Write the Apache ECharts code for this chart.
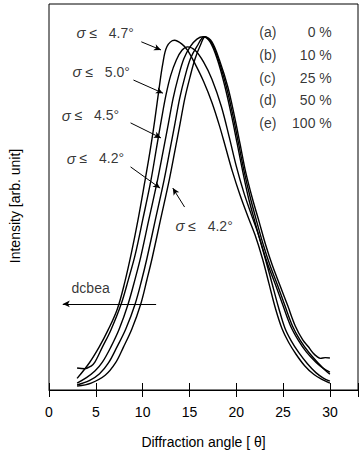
<!DOCTYPE html>
<html>
<head>
<meta charset="utf-8">
<script src="https://cdn.jsdelivr.net/npm/echarts@6/dist/echarts.min.js"></script>
<style>
  html, body { margin: 0; padding: 0; background: #fff; }
  #chart { width: 361px; height: 456px; }
</style>
</head>
<body>
<div id="chart"></div>
<script>
// x tick values and curve data: [angle, intensity (0-100 of plot height)]
const xTicks = [0, 5, 10, 15, 20, 25, 30];

const curveD = [[3.0,3.0],[4.3,7.0],[5.35,11.1],[6.3,15.5],[7.3,21],[8.1,28],[8.8,35.5],[9.5,44],[10.2,53.5],[10.8,62],[11.3,70],[11.75,78],[12.15,84.5],[12.6,89],[13.4,90.6],[14.2,89.6],[14.8,88],[15.6,84.5],[16.5,80],[17.4,74.5],[18.2,68.5],[18.9,62.5],[19.6,56.5],[20.4,50.5],[21.2,45.2],[22.0,40.2],[22.8,34],[23.5,27.5],[24.2,21],[24.9,15.8],[25.6,12.3],[26.4,9.2],[27.3,6.3],[28.3,4.0],[29.2,2.7],[30.0,1.8]];

const curveC = [[3.0,5.7],[3.8,5.5],[4.5,6.2],[4.9,7.2],[5.7,11.1],[6.6,15.5],[7.7,22.2],[8.5,28.8],[9.2,35],[10.0,44],[10.9,54.5],[11.5,63],[12.0,70],[12.5,76.5],[13.0,81.5],[13.6,85.5],[14.2,88],[14.8,88.9],[15.6,88.0],[16.5,85],[17.4,80.5],[18.4,73.5],[19.25,65.5],[20.0,58],[20.8,51.2],[21.6,45.5],[22.4,40],[23.1,34],[23.8,27.8],[24.5,21.5],[25.2,16],[25.9,12.6],[26.7,9.6],[27.6,6.8],[28.5,4.5],[29.3,3.1],[30.0,2.3]];

const curveB = [[3.0,1.8],[4.0,3.2],[4.9,4.9],[5.7,7.2],[6.6,11.1],[7.5,15.8],[8.45,22.3],[9.2,28.8],[9.8,34.5],[10.65,44],[11.6,54.5],[12.2,62],[12.75,69],[13.25,75.5],[13.8,81],[14.4,85.8],[15.1,89],[15.8,90.9],[16.47,91.5],[17.2,90.2],[18.0,85.5],[18.8,78.5],[19.5,71],[20.1,63.8],[20.7,56.5],[21.3,49.8],[22.0,43.5],[22.7,37.5],[23.4,32.3],[24.2,27.2],[25.0,21.8],[25.8,16.6],[26.6,13],[27.5,9.8],[28.5,7.2],[29.3,5.6],[30.0,4.6]];

const curveE = [[3.0,1.3],[4.3,2.4],[5.4,4.2],[6.35,7.0],[7.25,11.1],[8.2,15.8],[9.2,22.3],[9.9,28.5],[10.45,34],[11.35,44],[12.3,54.5],[12.9,62],[13.45,69],[13.95,75.5],[14.5,81],[15.1,85.8],[15.8,89],[16.58,91.5],[17.3,90.2],[18.1,85.5],[18.95,78.5],[19.65,71],[20.25,63.8],[20.85,56.5],[21.5,49.8],[22.2,43.5],[22.9,37.5],[23.6,32.3],[24.4,27.2],[25.2,21.8],[26.0,16.6],[26.8,13],[27.8,9.6],[28.9,6.6],[29.5,5.1],[30.0,4.1]];

const curveA = [[3.0,1.0],[4.5,1.8],[6.0,3.8],[7.1,7.0],[7.95,11.1],[8.85,15.8],[9.8,22.3],[10.45,28.5],[11.0,34],[11.9,44],[12.85,54.5],[13.45,62],[14.0,69],[14.5,75.5],[15.05,81],[15.6,85.8],[16.2,89.5],[16.68,91.5],[17.4,90.2],[18.2,85.5],[19.1,78.5],[19.8,71],[20.4,63.8],[21.0,56.5],[21.7,49.8],[22.45,43.5],[23.15,37.5],[23.85,32.3],[24.65,27.2],[25.5,21.8],[26.3,16.6],[27.1,13],[27.7,11.2],[28.2,9.6],[28.6,8.7],[29.0,8.2],[29.5,8.4],[30.0,8.3]];

// sigma annotations: text, label anchor, arrow from -> to
const sigmaTexts = ['{s|σ} ≤   4.7°', '{s|σ} ≤   5.0°', '{s|σ} ≤   4.5°', '{s|σ} ≤   4.2°', '{s|σ} ≤   4.2°'];
const sigmaAt = [[2.94,92.5],[2.52,82.4],[1.36,71.2],[1.89,60.1],[13.5,42.5]];
const sigmaArrows = [
  [[9.86,90.2],[11.96,88.1]],
  [[9.02,80.3],[12.17,76.9]],
  [[8.71,69.2],[11.96,65.3]],
  [[8.71,57.8],[11.86,52.3]],
  [[14.48,47.4],[13.22,52.3]]
];

// composition legend
const legendKeys = ['(a)', '(b)', '(c)', '(d)', '(e)'];
const legendVals = ['0 %', '10 %', '25 %', '50 %', '100 %'];
const legendRows = [92.7, 86.8, 80.8, 75.1, 69.2];

const orderText = 'dcbea';
const orderAt = [2.41, 26.4];
const orderArrow = [[11.44,22.3],[1.47,22.3]];

const FONT = "'Liberation Sans', Arial, sans-serif";

const chart = echarts.init(document.getElementById('chart'), null, { renderer: 'svg' });

function curve(name, data) {
  return {
    name: name,
    type: 'line',
    data: data,
    smooth: 0.35,
    symbol: 'none',
    lineStyle: { color: '#000', width: 1.4 },
    z: 3
  };
}

const textItems = [];
sigmaTexts.forEach((t, i) => {
  textItems.push({ value: sigmaAt[i], label: { formatter: t, align: 'left' } });
});
legendKeys.forEach((t, i) => {
  textItems.push({ value: [22.45, legendRows[i]], label: { formatter: t, align: 'left' } });
  textItems.push({ value: [30.2, legendRows[i]], label: { formatter: legendVals[i], align: 'right' } });
});
textItems.push({ value: orderAt, label: { formatter: orderText, align: 'left' } });

const arrowData = sigmaArrows.concat([orderArrow]).map(a => [{ coord: a[0] }, { coord: a[1] }]);

const option = {
  animation: false,
  backgroundColor: '#fff',
  textStyle: { fontFamily: FONT },
  grid: {
    left: 49, right: -2, top: 4, bottom: 66,
    show: true, borderColor: '#000', borderWidth: 1
  },
  xAxis: [{
    type: 'value', min: 0, max: 33, interval: 5,
    position: 'bottom',
    axisLine: { show: true, lineStyle: { color: '#000', width: 1 } },
    axisTick: { show: true, length: 7, lineStyle: { color: '#000' } },
    axisLabel: {
      color: '#000', fontSize: 14, margin: 15, fontFamily: FONT,
      formatter: v => (xTicks.indexOf(v) >= 0 ? String(v) : '')
    },
    splitLine: { show: false },
    name: 'Diffraction angle [ θ]',
    nameLocation: 'middle', nameGap: 45,
    nameTextStyle: { color: '#000', fontSize: 14, fontFamily: FONT }
  }, {
    type: 'value', min: 0, max: 33, interval: 5,
    position: 'bottom',
    axisLine: { show: false },
    axisTick: { show: true, inside: true, length: 7, lineStyle: { color: '#000' } },
    axisLabel: { show: false },
    splitLine: { show: false }
  }],
  yAxis: {
    type: 'value', min: 0, max: 100,
    axisLine: { show: false },
    axisTick: { show: false },
    axisLabel: { show: false },
    splitLine: { show: false },
    name: 'Intensity [arb. unit]',
    nameLocation: 'middle', nameGap: 27,
    nameTextStyle: { color: '#000', fontSize: 14, fontFamily: FONT, padding: [0, 18, 0, 0] }
  },
  series: [
    curve('d', curveD),
    curve('c', curveC),
    curve('b', curveB),
    curve('e', curveE),
    curve('a', curveA),
    {
      name: 'notes',
      type: 'scatter',
      symbolSize: 0,
      silent: true,
      data: textItems,
      label: {
        show: true, position: 'inside', color: '#000',
        fontSize: 14, fontFamily: FONT, verticalAlign: 'middle',
        rich: { s: { fontStyle: 'italic', fontSize: 15, fontFamily: FONT, color: '#000' } }
      },
      markLine: {
        silent: true,
        symbol: ['none', 'arrow'],
        symbolSize: [5, 7],
        label: { show: false },
        lineStyle: { color: '#000', width: 1, type: 'solid' },
        data: arrowData
      }
    }
  ]
};

chart.setOption(option);
</script>
</body>
</html>
